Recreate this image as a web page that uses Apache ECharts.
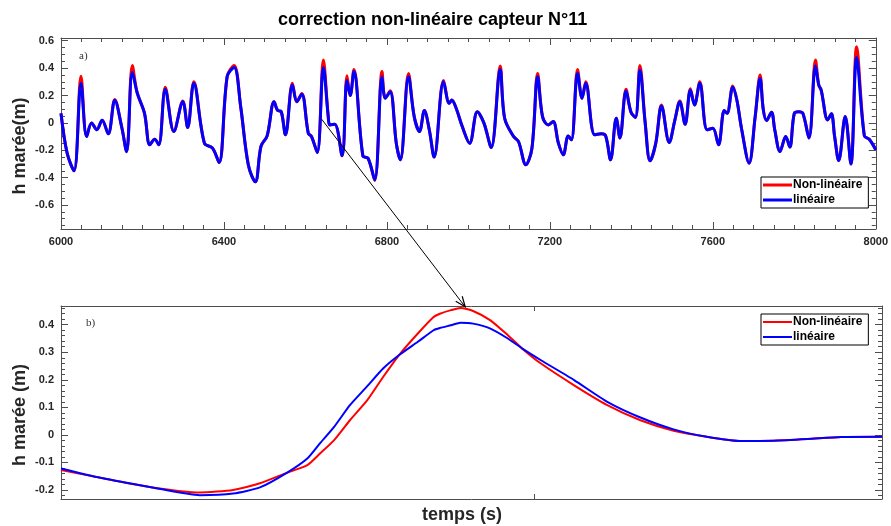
<!DOCTYPE html>
<html>
<head>
<meta charset="utf-8">
<script src="https://cdn.jsdelivr.net/npm/echarts@6/dist/echarts.min.js"></script>
<style>html,body{margin:0;padding:0;background:#fff}#c{width:891px;height:526px}</style>
</head>
<body>
<div id="c"></div>
<script>
// ---------- DATA ----------
const seriesNames = ['Non-linéaire', 'linéaire'];

// Top panel a): time (s)
const topTime = [6000,6015,6032,6049,6063,6075,6088,6101,6116,6132,6149,6161,6175,6187,6205,6218,6230,6240,6256,6277,6299,6311,6326,6352,6372,6388,6408,6425,6441,6460,6477,6491,6506,6523,6532,6540,6551,6568,6579,6591,6607,6615,6629,6644,6656,6660,6672,6690,6702,6710,6719,6741,6754,6770,6788,6796,6808,6823,6833,6853,6867,6880,6892,6904,6916,6939,6953,6959,6970,6985,7003,7022,7038,7056,7078,7089,7111,7123,7141,7156,7170,7182,7196,7208,7221,7233,7245,7253,7268,7279,7288,7310,7326,7337,7349,7363,7372,7387,7399,7410,7421,7434,7446,7460,7474,7493,7507,7519,7532,7545,7555,7568,7586,7600,7614,7628,7635,7649,7659,7671,7689,7704,7716,7724,7732,7744,7752,7765,7779,7789,7800,7811,7821,7836,7852,7860,7866,7882,7891,7899,7909,7925,7939,7953,7972,7984,8000];
// linear reconstruction (m)
const topLin = [0.07,-0.22,-0.35,0.29,-0.10,0.0,-0.05,0.02,-0.08,0.165,-0.03,-0.21,0.37,0.22,0.07,-0.16,-0.12,-0.16,0.245,-0.063,0.155,-0.034,0.29,-0.148,-0.185,-0.29,0.34,0.405,0.12,-0.31,-0.43,-0.17,-0.095,0.155,0.09,0.085,-0.087,0.277,0.155,0.21,-0.075,-0.10,-0.216,0.405,0.046,-0.015,-0.01,-0.24,0.31,0.20,0.375,-0.24,-0.26,-0.415,0.337,0.18,0.228,-0.148,-0.27,0.337,0.046,-0.063,0.09,-0.05,-0.25,0.30,0.143,0.167,0.107,-0.027,-0.148,0.082,0.0,-0.18,0.39,0.034,-0.10,-0.136,-0.306,-0.185,0.337,0.046,-0.015,0.01,-0.148,-0.233,-0.095,-0.124,0.362,0.18,0.29,-0.087,-0.08,-0.095,-0.27,0.034,-0.11,0.233,0.08,0.04,0.386,0.0,-0.277,-0.148,0.124,-0.143,0.022,0.155,-0.01,0.24,0.131,0.29,-0.05,-0.04,-0.16,0.09,0.07,0.26,0.167,-0.05,-0.294,0.046,0.325,0.095,0.017,0.078,-0.05,-0.209,-0.10,-0.177,0.07,0.082,0.07,-0.11,0.415,0.277,0.24,0.022,0.066,-0.10,-0.275,0.046,-0.30,0.478,-0.095,-0.12,-0.197];
// non-linear reconstruction (m)
const topNonLin = [0.07,-0.22,-0.35,0.34,-0.10,0.0,-0.05,0.02,-0.08,0.17,-0.03,-0.21,0.42,0.22,0.07,-0.16,-0.12,-0.16,0.26,-0.063,0.16,-0.034,0.30,-0.148,-0.185,-0.29,0.34,0.42,0.12,-0.31,-0.43,-0.17,-0.095,0.155,0.09,0.085,-0.087,0.29,0.155,0.215,-0.075,-0.10,-0.216,0.46,0.046,-0.015,-0.01,-0.24,0.345,0.20,0.39,-0.24,-0.26,-0.42,0.375,0.18,0.235,-0.148,-0.27,0.36,0.046,-0.063,0.09,-0.05,-0.25,0.31,0.143,0.167,0.107,-0.027,-0.148,0.082,0.0,-0.18,0.415,0.034,-0.10,-0.136,-0.306,-0.185,0.36,0.046,-0.015,0.01,-0.148,-0.233,-0.095,-0.124,0.39,0.18,0.30,-0.087,-0.08,-0.095,-0.27,0.034,-0.11,0.245,0.08,0.04,0.42,0.0,-0.277,-0.148,0.13,-0.143,0.022,0.16,-0.01,0.25,0.131,0.30,-0.05,-0.04,-0.16,0.09,0.07,0.27,0.167,-0.05,-0.294,0.046,0.35,0.095,0.017,0.078,-0.05,-0.209,-0.10,-0.177,0.07,0.082,0.07,-0.11,0.46,0.277,0.24,0.022,0.066,-0.10,-0.275,0.046,-0.30,0.556,-0.095,-0.12,-0.197];

// Bottom panel b): zoom on the crest near t = 6645 s
const zoomTime = [6620,6622.5,6625.7,6628.8,6630.9,6632.6,6634.3,6635.6,6636.4,6637.3,6638.3,6639.4,6640.4,6641.4,6642.6,6643.6,6644.0,6644.7,6645.3,6646.1,6647.2,6648.3,6649.2,6650.4,6652.5,6654.6,6656.7,6658.8,6660.9,6663.0,6665.1,6667.3,6669.4,6672];
const zoomNonLin = [-0.128,-0.156,-0.19,-0.209,-0.20,-0.176,-0.138,-0.11,-0.068,-0.019,0.053,0.126,0.21,0.289,0.368,0.428,0.44,0.453,0.461,0.45,0.416,0.362,0.314,0.259,0.18,0.108,0.053,0.015,-0.007,-0.022,-0.021,-0.015,-0.008,-0.007];
const zoomLin = [-0.122,-0.156,-0.19,-0.219,-0.213,-0.191,-0.138,-0.086,-0.031,0.029,0.108,0.177,0.241,0.289,0.338,0.38,0.388,0.398,0.407,0.404,0.386,0.35,0.314,0.271,0.199,0.12,0.063,0.02,-0.007,-0.022,-0.021,-0.015,-0.008,-0.007];

// Tick values / labels
const topXTicks = [6000, 6400, 6800, 7200, 7600, 8000];
const topYTicks = [-0.6, -0.4, -0.2, 0, 0.2, 0.4, 0.6];
const zoomXTicks = [6650];
const zoomYTicks = [-0.2, -0.1, 0, 0.1, 0.2, 0.3, 0.4];

// ---------- CHART ----------
const FONT = 'Liberation Sans, Arial, Helvetica, sans-serif';
const AXC = '#4d4d4d';
const LBL = '#262626';

function range(a, b, s) { const r = []; for (let v = a; v <= b + 1e-9; v += s) r.push(+v.toFixed(4)); return r; }
const topYMinor = range(-0.75, 0.6, 0.05);
const zoomYMinor = range(-0.22, 0.46, 0.02);

function lineCfg(show) { return { show: show, onZero: false, lineStyle: { color: AXC, width: 1 } }; }
function labelCfg(values) {
  return values ? { show: true, customValues: values, formatter: v => String(v), color: LBL, fontFamily: FONT, fontWeight: 'bold', fontSize: 11, margin: 7 } : { show: false };
}

function yAx(grid, pos, min, max, ticks, len, labels, showLine) {
  return { type: 'value', gridIndex: grid, position: pos, min: min, max: max, splitLine: { show: false },
    axisLine: lineCfg(showLine),
    axisTick: { show: true, inside: true, length: len, customValues: ticks, lineStyle: { color: AXC } },
    axisLabel: labelCfg(labels) };
}

const chart = echarts.init(document.getElementById('c'), null, { renderer: 'canvas' });

const topXBase = { type: 'value', gridIndex: 0, min: 6000, max: 8000, interval: 400, splitLine: { show: false },
  axisLine: lineCfg(true),
  axisTick: { show: true, inside: true, length: 7, lineStyle: { color: AXC } },
  minorTick: { show: true, splitNumber: 8, length: 4, lineStyle: { color: AXC } } };

const option = {
  animation: false,
  backgroundColor: '#fff',
  title: { text: 'correction non-linéaire capteur N°11', left: 278, top: 11, padding: 0,
    textStyle: { fontFamily: FONT, fontSize: 18, fontWeight: 'bold', color: '#000' } },
  grid: [
    { left: 61, right: 9, top: 38, height: 191, containLabel: false },
    { left: 61, right: 9, top: 306, height: 193, containLabel: false }
  ],
  xAxis: [
    Object.assign({}, topXBase, { position: 'bottom', axisLabel: { show: true, customValues: topXTicks, formatter: v => String(v), color: LBL, fontFamily: FONT, fontWeight: 'bold', fontSize: 11, margin: 7 } }),
    Object.assign({}, topXBase, { position: 'top', axisLabel: { show: false } }),
    { type: 'value', gridIndex: 1, position: 'bottom', min: 6620, max: 6672, splitLine: { show: false },
      axisLine: lineCfg(true), axisLabel: { show: false },
      axisTick: { show: true, inside: true, length: 5, customValues: zoomXTicks, lineStyle: { color: AXC } } },
    { type: 'value', gridIndex: 1, position: 'top', min: 6620, max: 6672, splitLine: { show: false },
      axisLine: lineCfg(true), axisLabel: { show: false },
      axisTick: { show: true, inside: true, length: 5, customValues: zoomXTicks, lineStyle: { color: AXC } } }
  ],
  yAxis: [
    yAx(0, 'left', -0.775, 0.62, topYTicks, 7, topYTicks, true),
    yAx(0, 'right', -0.775, 0.62, topYTicks, 7, null, true),
    yAx(0, 'left', -0.775, 0.62, topYMinor, 4, null, false),
    yAx(0, 'right', -0.775, 0.62, topYMinor, 4, null, false),
    yAx(1, 'left', -0.233, 0.468, zoomYTicks, 7, zoomYTicks, true),
    yAx(1, 'right', -0.233, 0.468, zoomYTicks, 7, null, true),
    yAx(1, 'left', -0.233, 0.468, zoomYMinor, 4, null, false),
    yAx(1, 'right', -0.233, 0.468, zoomYMinor, 4, null, false)
  ],
  legend: [
    { data: seriesNames, orient: 'vertical', left: 761, top: 177, icon: 'rect', itemWidth: 29, itemHeight: 3, itemGap: 1,
      padding: [1, 6, 1, 2], borderColor: '#000', borderWidth: 1, borderRadius: 0, backgroundColor: '#fff', selectedMode: false,
      textStyle: { fontFamily: FONT, fontWeight: 'bold', fontSize: 12, color: '#000', lineHeight: 14, padding: [0, 0, 0, -4] } },
    { data: seriesNames, orient: 'vertical', left: 761, top: 314, icon: 'rect', itemWidth: 29, itemHeight: 2, itemGap: 1,
      padding: [1, 6, 1, 2], borderColor: '#000', borderWidth: 1, borderRadius: 0, backgroundColor: '#fff', selectedMode: false,
      textStyle: { fontFamily: FONT, fontWeight: 'bold', fontSize: 12, color: '#000', lineHeight: 14, padding: [0, 0, 0, -4] } }
  ],
  series: [
    { name: seriesNames[0], type: 'line', xAxisIndex: 0, yAxisIndex: 0, showSymbol: false, smooth: 0.35,
      data: topTime.map((t, i) => [t, topNonLin[i]]), lineStyle: { color: '#ff0000', width: 3 }, itemStyle: { color: '#ff0000' }, z: 2 },
    { name: seriesNames[1], type: 'line', xAxisIndex: 0, yAxisIndex: 0, showSymbol: false, smooth: 0.35,
      data: topTime.map((t, i) => [t, topLin[i]]), lineStyle: { color: '#0000ff', width: 3 }, itemStyle: { color: '#0000ff' }, z: 3 },
    { name: seriesNames[0], type: 'line', xAxisIndex: 2, yAxisIndex: 4, showSymbol: false, smooth: 0.2,
      data: zoomTime.map((t, i) => [t, zoomNonLin[i]]), lineStyle: { color: '#ff0000', width: 2 }, itemStyle: { color: '#ff0000' }, z: 2 },
    { name: seriesNames[1], type: 'line', xAxisIndex: 2, yAxisIndex: 4, showSymbol: false, smooth: 0.2,
      data: zoomTime.map((t, i) => [t, zoomLin[i]]), lineStyle: { color: '#0000ff', width: 2 }, itemStyle: { color: '#0000ff' }, z: 3 }
  ]
};
chart.setOption(option);

// annotations: panel tags, axis titles, zoom arrow
const p0 = chart.convertToPixel({ xAxisIndex: 0, yAxisIndex: 0 }, [6639.8, 0.027]);
const p1 = chart.convertToPixel({ xAxisIndex: 2, yAxisIndex: 4 }, [6645.6, 0.465]);
const ang = Math.atan2(p1[1] - p0[1], p1[0] - p0[0]);
const hl = 11, hw = 0.38;
const h1 = [p1[0] - hl * Math.cos(ang - hw), p1[1] - hl * Math.sin(ang - hw)];
const h2 = [p1[0] - hl * Math.cos(ang + hw), p1[1] - hl * Math.sin(ang + hw)];

chart.setOption({
  graphic: [
    { type: 'text', x: 79, y: 51, style: { text: 'a)', font: '11px "Liberation Serif", serif', fill: '#333' } },
    { type: 'text', x: 86, y: 318, style: { text: 'b)', font: '11px "Liberation Serif", serif', fill: '#333' } },
    { type: 'text', x: 20, y: 146, rotation: Math.PI / 2,
      style: { text: 'h marée(m)', font: 'bold 18px ' + FONT, fill: '#262626', align: 'center', verticalAlign: 'middle' } },
    { type: 'text', x: 20, y: 415, rotation: Math.PI / 2,
      style: { text: 'h marée (m)', font: 'bold 18px ' + FONT, fill: '#262626', align: 'center', verticalAlign: 'middle' } },
    { type: 'text', x: 462, y: 515,
      style: { text: 'temps (s)', font: 'bold 18px ' + FONT, fill: '#262626', align: 'center', verticalAlign: 'middle' } },
    { type: 'line', z: 100, shape: { x1: p0[0], y1: p0[1], x2: p1[0], y2: p1[1] }, style: { stroke: '#000', lineWidth: 1 } },
    { type: 'polyline', z: 100, shape: { points: [h1, p1, h2] }, style: { stroke: '#000', lineWidth: 1.2, fill: null } }
  ]
});
</script>
</body>
</html>
